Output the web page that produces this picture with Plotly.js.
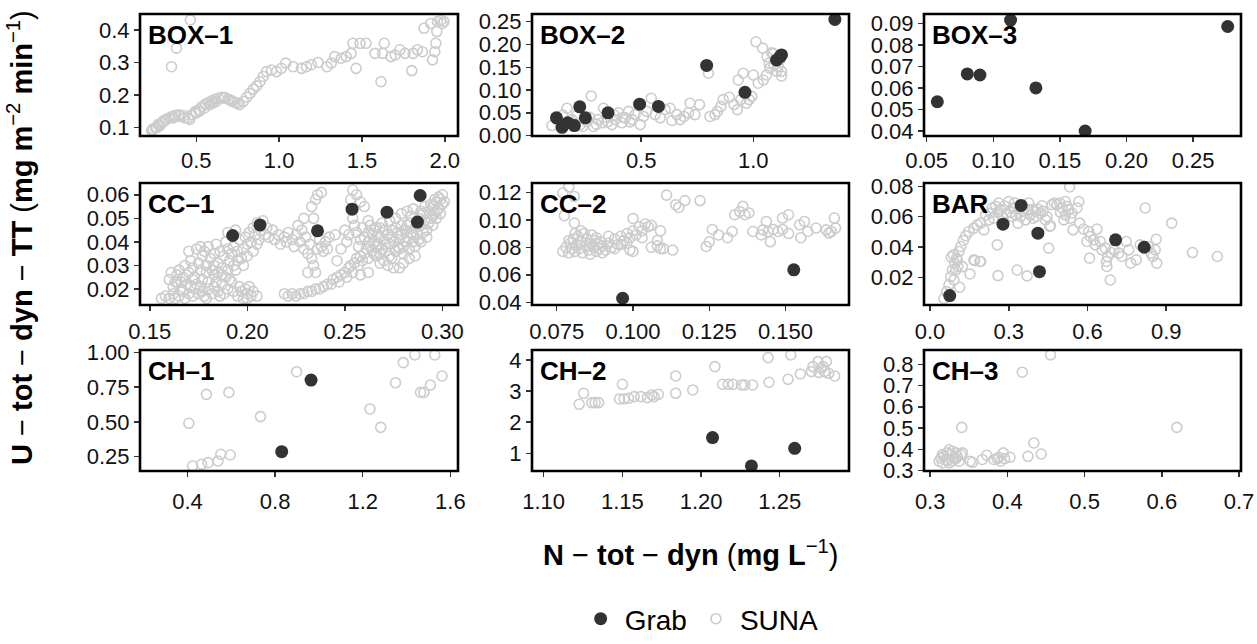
<!DOCTYPE html>
<html><head><meta charset="utf-8">
<script src="https://cdn.plot.ly/plotly-3.0.1.min.js"></script>
<style>html,body{margin:0;padding:0;background:#fff;} #chart{width:1257px;height:644px;}</style>
</head><body><div id="chart"></div>
<script>
const panelNames = ['BOX–1','BOX–2','BOX–3','CC–1','CC–2','BAR','CH–1','CH–2','CH–3'];

const box1Suna = [[0.464,0.431],[0.38,0.344],[0.35,0.287],[0.234,0.093],[0.254,0.1],[0.274,0.108],[0.294,0.115],[0.314,0.124],[0.334,0.129],[0.354,0.134],[0.374,0.138],[0.394,0.139],[0.424,0.137],[0.45,0.129],[0.474,0.139],[0.494,0.149],[0.514,0.154],[0.534,0.164],[0.554,0.172],[0.574,0.177],[0.594,0.182],[0.614,0.187],[0.634,0.19],[0.654,0.193],[0.674,0.192],[0.694,0.187],[0.714,0.182],[0.734,0.177],[0.76,0.17],[0.784,0.18],[0.804,0.193],[0.824,0.205],[0.844,0.218],[0.864,0.228],[0.884,0.241],[0.904,0.257],[0.924,0.272],[0.954,0.277],[0.984,0.272],[1.014,0.282],[1.04,0.298],[1.085,0.287],[1.135,0.282],[1.165,0.287],[1.195,0.293],[1.235,0.3],[1.289,0.287],[1.315,0.298],[1.335,0.318],[1.375,0.313],[1.405,0.318],[1.435,0.328],[1.445,0.359],[1.465,0.282],[1.489,0.359],[1.525,0.359],[1.579,0.328],[1.615,0.241],[1.625,0.328],[1.635,0.359],[1.675,0.318],[1.701,0.323],[1.729,0.339],[1.761,0.328],[1.801,0.275],[1.809,0.328],[1.835,0.339],[1.865,0.333],[1.875,0.405],[1.916,0.42],[1.926,0.308],[1.94,0.333],[1.946,0.359],[1.952,0.395],[1.956,0.426],[1.976,0.429],[1.986,0.42],[1.996,0.426],[0.23,0.09],[0.24,0.095],[0.26,0.1],[0.28,0.105],[0.27,0.11],[0.3,0.12],[0.32,0.125],[0.36,0.13],[0.4,0.135],[0.43,0.13],[0.46,0.125],[0.5,0.145],[0.52,0.15],[0.55,0.16],[0.58,0.17],[0.6,0.175],[0.62,0.18],[0.66,0.19],[0.7,0.185],[0.72,0.18],[0.75,0.175]];
const box1Grab = [];

const box2Suna = [[0.102,0.022],[0.132,0.031],[0.169,0.06],[0.191,0.035],[0.214,0.046],[0.228,0.024],[0.258,0.031],[0.277,0.087],[0.288,0.02],[0.306,0.035],[0.325,0.028],[0.332,0.06],[0.347,0.039],[0.369,0.024],[0.384,0.035],[0.399,0.05],[0.414,0.028],[0.429,0.039],[0.444,0.053],[0.459,0.035],[0.473,0.046],[0.496,0.024],[0.51,0.042],[0.525,0.053],[0.545,0.082],[0.562,0.046],[0.585,0.039],[0.607,0.057],[0.629,0.06],[0.637,0.033],[0.659,0.046],[0.674,0.035],[0.691,0.042],[0.711,0.05],[0.718,0.071],[0.74,0.046],[0.76,0.068],[0.8,0.137],[0.807,0.042],[0.829,0.046],[0.84,0.053],[0.855,0.064],[0.866,0.079],[0.893,0.084],[0.914,0.068],[0.929,0.057],[0.933,0.122],[0.944,0.079],[0.955,0.137],[0.97,0.071],[0.982,0.079],[0.993,0.086],[1.0,0.133],[1.012,0.206],[1.022,0.115],[1.042,0.192],[1.045,0.122],[1.059,0.133],[1.062,0.173],[1.074,0.148],[1.082,0.182],[1.092,0.155],[1.104,0.141],[1.111,0.152],[1.119,0.166],[1.126,0.141],[1.126,0.131],[1.089,0.18],[1.071,0.159],[0.15,0.045],[0.18,0.028],[0.24,0.02],[0.27,0.04],[0.3,0.025],[0.35,0.03],[0.38,0.045],[0.42,0.04],[0.45,0.03]];
const box2Grab = [[0.122,0.039],[0.147,0.018],[0.172,0.028],[0.202,0.022],[0.226,0.063],[0.251,0.039],[0.352,0.05],[0.493,0.069],[0.577,0.064],[0.792,0.154],[0.963,0.095],[1.104,0.166],[1.119,0.173],[1.126,0.177],[1.364,0.255]];

const box3Suna = [];
const box3Grab = [[0.058,0.0536],[0.0805,0.0665],[0.09,0.066],[0.113,0.0915],[0.132,0.06],[0.169,0.04],[0.276,0.0885]];

const cc1Suna = [[0.156,0.016],[0.158,0.017],[0.16,0.016],[0.162,0.018],[0.163,0.016],[0.165,0.017],[0.167,0.019],[0.168,0.016],[0.17,0.018],[0.172,0.017],[0.173,0.02],[0.175,0.018],[0.177,0.019],[0.178,0.017],[0.18,0.02],[0.182,0.018],[0.183,0.021],[0.185,0.019],[0.187,0.022],[0.188,0.018],[0.19,0.02],[0.192,0.023],[0.193,0.019],[0.195,0.017],[0.197,0.019],[0.198,0.016],[0.2,0.018],[0.202,0.017],[0.203,0.019],[0.205,0.017],[0.196,0.021],[0.199,0.02],[0.2,0.016],[0.201,0.021],[0.176,0.021],[0.184,0.023],[0.189,0.025],[0.191,0.024],[0.186,0.017],[0.179,0.016],[0.171,0.021],[0.166,0.02],
[0.16,0.024],[0.161,0.027],[0.163,0.023],[0.164,0.026],[0.165,0.028],[0.167,0.025],[0.168,0.03],[0.17,0.027],[0.171,0.032],[0.172,0.029],[0.173,0.025],[0.174,0.037],[0.175,0.031],[0.176,0.028],[0.177,0.034],[0.178,0.036],[0.179,0.03],[0.18,0.038],[0.181,0.033],[0.182,0.028],[0.183,0.035],[0.184,0.039],[0.185,0.031],[0.186,0.036],[0.187,0.026],[0.188,0.034],[0.189,0.04],[0.19,0.037],[0.191,0.032],[0.192,0.035],[0.193,0.038],[0.194,0.028],[0.195,0.036],[0.196,0.041],[0.197,0.033],[0.198,0.037],[0.199,0.042],[0.2,0.039],[0.201,0.044],[0.202,0.04],[0.203,0.046],[0.204,0.043],[0.205,0.048],[0.206,0.041],[0.207,0.045],[0.208,0.049],[0.209,0.043],[0.21,0.046],[0.19,0.044],[0.194,0.045],[0.176,0.038],[0.17,0.036],
[0.162,0.021],[0.164,0.023],[0.166,0.023],[0.169,0.022],[0.172,0.024],[0.174,0.022],[0.177,0.024],[0.18,0.023],[0.183,0.026],[0.185,0.027],[0.187,0.029],[0.19,0.028],[0.193,0.03],[0.195,0.032],[0.198,0.03],[0.2,0.034],[0.203,0.036],[0.205,0.039],[0.179,0.027],[0.183,0.03],
[0.211,0.042],[0.213,0.045],[0.214,0.041],[0.216,0.043],[0.217,0.039],[0.219,0.042],[0.22,0.04],[0.221,0.044],[0.223,0.041],[0.224,0.038],[0.225,0.043],[0.227,0.04],[0.228,0.045],[0.229,0.037],[0.23,0.042],[0.231,0.035],[0.232,0.039],[0.233,0.033],[0.234,0.03],[0.235,0.027],[0.236,0.037],[0.237,0.041],[0.238,0.038],[0.239,0.036],[0.24,0.04],[0.233,0.055],[0.235,0.058],[0.236,0.06],[0.234,0.05],[0.229,0.05],[0.226,0.047],[0.231,0.027],[0.242,0.042],[0.241,0.037],[0.245,0.043],[0.238,0.061],
[0.219,0.018],[0.221,0.017],[0.223,0.018],[0.225,0.017],[0.227,0.018],[0.229,0.018],[0.231,0.019],[0.233,0.019],[0.235,0.02],[0.237,0.02],[0.239,0.021],[0.241,0.022],[0.243,0.022],[0.244,0.024],[0.246,0.025],[0.247,0.023],[0.248,0.026],[0.25,0.027],[0.251,0.025],[0.252,0.029],[0.253,0.03],[0.254,0.027],[0.255,0.031],[0.256,0.033],[0.257,0.03],[0.258,0.034],[0.259,0.032],[0.26,0.035],[0.261,0.037],[0.262,0.033],[0.263,0.038],[0.264,0.036],[0.265,0.04],[0.266,0.034],[0.267,0.039],[0.268,0.042],[0.269,0.037],[0.27,0.041],[0.271,0.036],[0.272,0.043],[0.273,0.039],[0.274,0.045],[0.275,0.04],[0.276,0.036],[0.277,0.044],[0.278,0.041],[0.279,0.047],[0.28,0.038],[0.281,0.045],[0.282,0.042],[0.283,0.048],[0.284,0.044],[0.285,0.04],[0.286,0.046],[0.287,0.043],[0.288,0.05],[0.289,0.047],[0.29,0.052],[0.291,0.049],[0.292,0.045],[0.293,0.053],[0.294,0.05],[0.295,0.055],[0.296,0.052],[0.297,0.057],[0.298,0.054],[0.299,0.058],[0.3,0.056],[0.297,0.05],[0.295,0.047],
[0.262,0.04],[0.264,0.043],[0.266,0.038],[0.268,0.035],[0.27,0.045],[0.271,0.039],[0.273,0.034],[0.274,0.042],[0.276,0.046],[0.277,0.038],[0.279,0.043],[0.28,0.035],[0.281,0.04],[0.282,0.047],[0.283,0.037],[0.284,0.051],[0.285,0.043],[0.286,0.038],[0.287,0.048],[0.288,0.041],[0.289,0.053],[0.29,0.044],[0.291,0.055],[0.292,0.042],[0.293,0.048],[0.294,0.056],[0.295,0.051],[0.296,0.058],[0.297,0.053],[0.298,0.059],[0.299,0.052],[0.3,0.06],[0.301,0.057],[0.278,0.037],[0.274,0.033],[0.283,0.033],[0.286,0.034],[0.289,0.04],[0.269,0.048],[0.266,0.046],
[0.25,0.045],[0.252,0.043],[0.254,0.05],[0.255,0.047],[0.256,0.044],[0.257,0.038],[0.258,0.041],[0.259,0.046],[0.26,0.042],[0.262,0.044],[0.263,0.047],[0.265,0.045],[0.267,0.043],[0.268,0.046],[0.27,0.032],[0.272,0.03],[0.275,0.029],[0.278,0.029],[0.28,0.031],[0.273,0.049],[0.276,0.05],[0.279,0.052],[0.282,0.053],[0.285,0.054],[0.253,0.058],[0.254,0.062],[0.256,0.06],[0.258,0.057],[0.26,0.055],[0.262,0.049],[0.265,0.035],[0.268,0.031],[0.246,0.032],[0.248,0.037],[0.251,0.04],[0.262,0.027],[0.258,0.026]];
const cc1Grab = [[0.1925,0.0427],[0.2065,0.0472],[0.236,0.0447],[0.2537,0.0539],[0.2716,0.0526],[0.2872,0.0484],[0.2886,0.0597]];

const cc2Suna = [[0.077,0.1195],[0.079,0.124],[0.0808,0.117],[0.0775,0.103],[0.0808,0.0977],
[0.077,0.077],[0.078,0.08],[0.079,0.076],[0.0795,0.083],[0.08,0.079],[0.0805,0.086],[0.081,0.077],[0.0815,0.082],[0.082,0.088],[0.0825,0.079],[0.083,0.084],[0.0835,0.076],[0.084,0.09],[0.0845,0.081],[0.085,0.086],[0.0855,0.078],[0.086,0.083],[0.0865,0.089],[0.087,0.08],[0.0875,0.085],[0.088,0.077],[0.0885,0.082],[0.089,0.079],[0.0895,0.084],[0.09,0.081],[0.091,0.078],[0.092,0.083],[0.093,0.08],[0.094,0.086],[0.095,0.082],[0.096,0.088],[0.097,0.085],[0.098,0.09],[0.099,0.087],[0.1,0.092],[0.101,0.089],[0.1,0.101],[0.102,0.095],[0.103,0.092],[0.104,0.097],[0.105,0.095],[0.106,0.096],[0.099,0.078],[0.1,0.077],[0.103,0.087],[0.106,0.08],[0.108,0.081],[0.109,0.079],[0.11,0.079],[0.108,0.085],[0.109,0.092],[0.113,0.078],[0.079,0.085],[0.081,0.09],[0.083,0.092],[0.086,0.075],[0.088,0.087],[0.09,0.076],[0.092,0.088],[0.094,0.079],[0.096,0.082],[0.098,0.083],
[0.111,0.118],[0.114,0.111],[0.115,0.109],[0.117,0.114],[0.122,0.114],
[0.125,0.084],[0.126,0.093],[0.124,0.0806],[0.128,0.089],[0.131,0.087],[0.1325,0.0915],[0.1333,0.1037],[0.135,0.106],[0.136,0.1098],[0.1367,0.1037],[0.138,0.105],[0.1393,0.0915],[0.142,0.089],[0.1426,0.0927],[0.1437,0.0988],[0.1443,0.0915],[0.145,0.084],[0.146,0.093],[0.1475,0.0915],[0.149,0.093],[0.149,0.1013],[0.151,0.1037],[0.151,0.09],[0.1546,0.0964],[0.155,0.087],[0.1562,0.0988],[0.1573,0.0915],[0.16,0.094],[0.1633,0.0927],[0.165,0.0915],[0.166,0.1013],[0.1664,0.094],[0.1642,0.0903]];
const cc2Grab = [[0.0966,0.0429],[0.1527,0.0636]];

const barSuna = [[0.053,0.006],[0.063,0.0105],[0.072,0.015],[0.079,0.0204],[0.085,0.0248],[0.094,0.0293],[0.101,0.0326],[0.11,0.037],[0.117,0.0403],[0.127,0.0443],[0.136,0.0474],[0.148,0.0502],[0.167,0.0524],[0.18,0.0546],[0.193,0.0557],[0.205,0.0513],[0.091,0.0182],[0.098,0.0248],[0.106,0.027],[0.113,0.0134],[0.123,0.027],[0.152,0.0222],[0.17,0.031],[0.193,0.0304],[0.104,0.0315],[0.089,0.0348],[0.081,0.0332],
[0.212,0.0612],[0.224,0.0579],[0.237,0.0657],[0.25,0.0668],[0.259,0.0628],[0.268,0.0646],[0.284,0.067],[0.3,0.07],[0.307,0.0628],[0.317,0.0657],[0.326,0.0612],[0.335,0.0557],[0.345,0.0601],[0.355,0.0635],[0.364,0.0579],[0.373,0.0646],[0.383,0.0612],[0.393,0.059],[0.402,0.0635],[0.411,0.065],[0.421,0.0624],[0.431,0.0635],[0.44,0.0579],[0.446,0.0601],[0.456,0.0535],[0.465,0.0679],[0.474,0.069],[0.484,0.0679],[0.494,0.069],[0.503,0.0657],[0.51,0.0579],[0.516,0.07],[0.522,0.0668],[0.528,0.0646],[0.532,0.0796],[0.535,0.059],[0.541,0.0624],[0.545,0.0513],[0.56,0.0657],[0.567,0.07],[0.57,0.0557],[0.585,0.0518],[0.605,0.0502],[0.611,0.0469],[0.598,0.0436],[0.608,0.0326],[0.63,0.0414],[0.636,0.0518],[0.649,0.0436],[0.655,0.0381],[0.668,0.0392],[0.672,0.0304],[0.674,0.0271],[0.677,0.0337],[0.687,0.0182],[0.689,0.0363],[0.7,0.0381],[0.719,0.0359],[0.731,0.0337],[0.748,0.0436],[0.757,0.0381],[0.765,0.0293],[0.786,0.0315],[0.801,0.0414],[0.82,0.0657],[0.833,0.0403],[0.842,0.0359],[0.849,0.0337],[0.858,0.0381],[0.862,0.0451],[0.864,0.0293],[0.921,0.0557],[1.0,0.0363],[1.095,0.0337],[0.256,0.0414],[0.259,0.0211],[0.332,0.0248],[0.37,0.0209],[0.167,0.0315],[0.19,0.0304],[0.452,0.0392],[0.459,0.054],[0.624,0.0447],
[0.231,0.0624],[0.243,0.059],[0.262,0.069],[0.275,0.0601],[0.292,0.0624],[0.313,0.0601],[0.322,0.069],[0.342,0.065],[0.376,0.069],[0.389,0.0646],[0.406,0.0601],[0.427,0.0672],[0.497,0.0628],[0.516,0.0612]];
const barGrab = [[0.075,0.0079],[0.278,0.055],[0.347,0.0674],[0.411,0.0491],[0.417,0.0237],[0.707,0.0447],[0.816,0.0398]];

const ch1Suna = [[0.406,0.49],[0.423,0.183],[0.464,0.195],[0.486,0.698],[0.494,0.207],[0.539,0.219],[0.552,0.267],[0.589,0.712],[0.595,0.262],[0.733,0.538],[0.898,0.861],[1.233,0.593],[1.282,0.461],[1.35,0.782],[1.385,0.926],[1.438,0.981],[1.464,0.712],[1.479,0.712],[1.509,0.765],[1.529,0.981],[1.562,0.83]];
const ch1Grab = [[0.83,0.286],[0.964,0.801]];

const ch2Suna = [[1.1226,2.574],[1.1254,2.928],[1.1306,2.628],[1.1327,2.628],[1.1349,2.628],[1.15,3.218],[1.1482,2.746],[1.1511,2.746],[1.1539,2.767],[1.1575,2.821],[1.1617,2.821],[1.1659,2.789],[1.1687,2.875],[1.1701,2.821],[1.1729,2.896],[1.1839,3.486],[1.1839,2.928],[1.1947,3.035],[1.2088,3.786],[1.2137,3.218],[1.2173,3.218],[1.2204,3.218],[1.2257,3.196],[1.2278,3.196],[1.2327,3.196],[1.2426,4.075],[1.2432,3.282],[1.2553,3.378],[1.257,4.16],[1.2631,3.55],[1.2701,3.625],[1.2711,3.786],[1.2743,3.946],[1.2764,3.732],[1.2785,3.625],[1.2796,3.946],[1.2811,3.571],[1.2849,3.486],[1.2749,3.6],[1.2775,3.786]];
const ch2Grab = [[1.2073,1.503],[1.232,0.592],[1.2595,1.16]];

const ch3Suna = [[0.4558,0.844],[0.4192,0.7625],[0.3409,0.503],[0.6194,0.503],[0.4343,0.43],[0.4266,0.367],[0.4438,0.378],
[0.3116,0.344],[0.3138,0.359],[0.316,0.336],[0.318,0.367],[0.32,0.352],[0.3224,0.383],[0.3245,0.398],[0.3267,0.375],[0.3288,0.391],[0.331,0.359],[0.3331,0.383],[0.3353,0.367],[0.3375,0.344],[0.3396,0.375],[0.3418,0.383],[0.3245,0.336],[0.3288,0.344],[0.3331,0.356],[0.316,0.375],[0.3224,0.347],
[0.3517,0.344],[0.3547,0.339],[0.3676,0.352],[0.3732,0.372],[0.3826,0.352],[0.389,0.3625],[0.3913,0.344],[0.3947,0.383],[0.3964,0.356],[0.4033,0.3625],[0.387,0.356]];
const ch3Grab = [];

const sunaSets = [box1Suna, box2Suna, box3Suna, cc1Suna, cc2Suna, barSuna, ch1Suna, ch2Suna, ch3Suna];
const grabSets = [box1Grab, box2Grab, box3Grab, cc1Grab, cc2Grab, barGrab, ch1Grab, ch2Grab, ch3Grab];

// layout geometry (pixels)
const W = 1257, H = 644;
const colPx = [[140, 458], [532, 849], [924, 1241]];
const rowPx = [[14, 136], [183, 305], [350, 471]];
const rowLabelStandoff = [0, 2, 6];
const axisCfg = [
  {xr:[0.16,2.08], yr:[0.074,0.449], xt0:0.5, xd:0.5, xf:'.1f', yt0:0.1, yd:0.1, yf:'.1f'},
  {xr:[0.013,1.427], yr:[-0.001,0.267], xt0:0.5, xd:0.5, xf:'.1f', yt0:0, yd:0.05, yf:'.2f'},
  {xr:[0.048,0.286], yr:[0.0377,0.0943], xt0:0.05, xd:0.05, xf:'.2f', yt0:0.04, yd:0.01, yf:'.2f'},
  {xr:[0.145,0.308], yr:[0.0132,0.065], xt0:0.15, xd:0.05, xf:'.2f', yt0:0.02, yd:0.01, yf:'.2f'},
  {xr:[0.0669,0.1708], yr:[0.038,0.1268], xt0:0.075, xd:0.025, xf:'.3f', yt0:0.04, yd:0.02, yf:'.2f'},
  {xr:[-0.023,1.185], yr:[0.0017,0.0822], xt0:0, xd:0.3, xf:'.1f', yt0:0.02, yd:0.02, yf:'.2f'},
  {xr:[0.183,1.635], yr:[0.147,1.017], xt0:0.4, xd:0.4, xf:'.1f', yt0:0.25, yd:0.25, yf:'.2f'},
  {xr:[1.0926,1.294], yr:[0.43,4.32], xt0:1.1, xd:0.05, xf:'.2f', yt0:1, yd:1, yf:'d'},
  {xr:[0.292,0.7025], yr:[0.298,0.867], xt0:0.3, xd:0.1, xf:'.1f', yt0:0.3, yd:0.1, yf:'.1f'}
];

const FONT = 'Liberation Sans, Arial, Helvetica, sans-serif';
const traces = [];
const layout = {
  width: W, height: H,
  margin: {l:0, r:0, t:0, b:0},
  paper_bgcolor: '#fff', plot_bgcolor: '#fff',
  font: {family: FONT, color: '#000'},
  showlegend: true,
  legend: {orientation:'h', x: 0.557, xanchor:'center', y: 0, yanchor:'bottom',
           font:{size:28, family: FONT, color:'#000'}, traceorder:'reversed', itemwidth:38},
  shapes: [], annotations: []
};

let sunaLegendDone = false, grabLegendDone = false;
for (let i = 0; i < 9; i++) {
  const s = sunaSets[i];
  if (!s.length) continue;
  const ax = i === 0 ? '' : String(i + 1);
  traces.push({
    type:'scatter', mode:'markers', name:'SUNA', legendgroup:'SUNA',
    showlegend: !sunaLegendDone,
    x: s.map(p => p[0]), y: s.map(p => p[1]),
    xaxis:'x'+ax, yaxis:'y'+ax,
    marker:{symbol:'circle-open', size:10, color:'#cccccc', line:{width:1.6, color:'#cccccc'}},
    hoverinfo:'skip'
  });
  sunaLegendDone = true;
}
for (let i = 0; i < 9; i++) {
  const g = grabSets[i];
  if (!g.length) continue;
  const ax = i === 0 ? '' : String(i + 1);
  traces.push({
    type:'scatter', mode:'markers', name:'Grab', legendgroup:'Grab',
    showlegend: !grabLegendDone,
    x: g.map(p => p[0]), y: g.map(p => p[1]),
    xaxis:'x'+ax, yaxis:'y'+ax,
    marker:{symbol:'circle', size:13, color:'#333333'},
    hoverinfo:'skip'
  });
  grabLegendDone = true;
}

for (let i = 0; i < 9; i++) {
  const r = Math.floor(i / 3), c = i % 3;
  const ax = i === 0 ? '' : String(i + 1);
  const cfg = axisCfg[i];
  const tickCommon = {
    ticks:'outside', ticklen:5, tickwidth:1.5, tickcolor:'#333',
    showgrid:false, zeroline:false, showline:false, automargin:false,
    tickfont:{size:22, family: FONT, color:'#111'}, fixedrange:true
  };
  layout['xaxis'+ax] = Object.assign({}, tickCommon, {
    domain:[colPx[c][0]/W, colPx[c][1]/W], anchor:'y'+ax, range:cfg.xr,
    tickmode:'linear', tick0:cfg.xt0, dtick:cfg.xd, tickformat:cfg.xf,
    ticklabelstandoff: rowLabelStandoff[r]
  });
  layout['yaxis'+ax] = Object.assign({}, tickCommon, {
    domain:[1 - rowPx[r][1]/H, 1 - rowPx[r][0]/H], anchor:'x'+ax, range:cfg.yr,
    tickmode:'linear', tick0:cfg.yt0, dtick:cfg.yd, tickformat:cfg.yf
  });
  layout.shapes.push({type:'rect', xref:'x'+ax+' domain', yref:'y'+ax+' domain',
    x0:0, x1:1, y0:0, y1:1, line:{color:'#000', width:2.6}, layer:'above'});
  layout.annotations.push({text:'<b>'+panelNames[i]+'</b>', xref:'x'+ax+' domain', yref:'y'+ax+' domain',
    x:0, y:1, xanchor:'left', yanchor:'top', xshift:6, yshift:-4, showarrow:false,
    font:{size:26, family: FONT, color:'#000'}});
}

layout.annotations.push({
  text:'<b>N</b> − <b>tot</b> − <b>dyn</b> (<b>mg L</b><sup>−1</sup>)', xref:'paper', yref:'paper',
  x: 690/W, y: 1 - 553/H, xanchor:'center', yanchor:'middle', showarrow:false,
  font:{size:29, family: FONT, color:'#000'}
});
layout.annotations.push({
  text:'<b>U</b> − <b>tot</b> − <b>dyn</b> − <b>TT</b> (<b>mg m</b><sup>−2</sup> <b>min</b><sup>−1</sup>)', xref:'paper', yref:'paper',
  x: 20/W, y: 1 - 238/H, xanchor:'center', yanchor:'middle', textangle:-90, showarrow:false,
  font:{size:29, family: FONT, color:'#000'}
});

Plotly.newPlot('chart', traces, layout, {displayModeBar:false, staticPlot:true});
</script>
</body></html>
